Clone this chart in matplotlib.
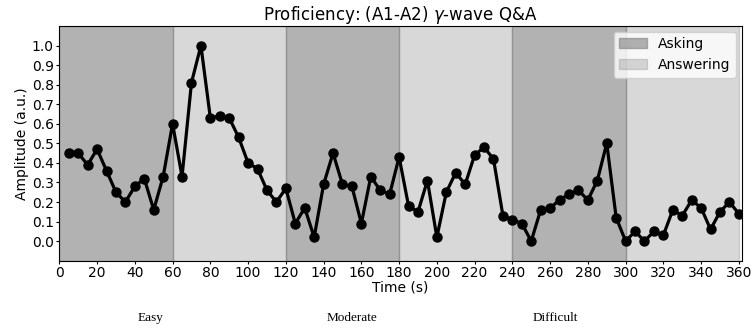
import matplotlib
matplotlib.use("Agg")
import matplotlib.pyplot as plt
import numpy as np

# Sampling times (s) and gamma-wave amplitude (a.u.)
time_s = list(range(5, 365, 5))
amplitude = [
    0.45, 0.45, 0.39, 0.47, 0.36, 0.25, 0.20, 0.28, 0.32, 0.16, 0.33, 0.60,
    0.33, 0.81, 1.00, 0.63, 0.64, 0.63, 0.53, 0.40, 0.37, 0.26, 0.20, 0.27,
    0.09, 0.17, 0.02, 0.29, 0.45, 0.29, 0.28, 0.09, 0.33, 0.26, 0.24, 0.43,
    0.18, 0.15, 0.31, 0.02, 0.25, 0.35, 0.29, 0.44, 0.48, 0.42, 0.13, 0.11,
    0.09, 0.00, 0.16, 0.17, 0.21, 0.24, 0.26, 0.21, 0.31, 0.50, 0.12, 0.00,
    0.05, 0.00, 0.05, 0.03, 0.16, 0.13, 0.21, 0.17, 0.06, 0.15, 0.20, 0.14,
]

# Task phases: (start, end, kind)
phases = [
    (0, 60, "Asking"), (60, 120, "Answering"),
    (120, 180, "Asking"), (180, 240, "Answering"),
    (240, 300, "Asking"), (300, 360, "Answering"),
]
phase_alpha = {"Asking": 0.6, "Answering": 0.3}

difficulty_labels = ["Easy", "Moderate", "Difficult"]
difficulty_x = [0.200, 0.467, 0.737]

fig = plt.figure(figsize=(7.54, 3.29), dpi=100)
ax = fig.add_axes([0.0787, 0.2076, 0.905, 0.7134])

seen = set()
for start, end, kind in phases:
    label = kind if kind not in seen else None
    seen.add(kind)
    ax.axvspan(start, end, color="gray", alpha=phase_alpha[kind], label=label)

ax.plot(time_s, amplitude, color="black", linewidth=2.3, marker="o", markersize=6.5)

ax.set_xlim(0, 361.5)
ax.set_ylim(-0.1, 1.1)
ax.set_xticks(np.arange(0, 361, 20))
ax.set_yticks(np.arange(0, 1.01, 0.1))
ax.set_yticklabels([f"{v:.1f}" for v in np.arange(0, 1.01, 0.1)])
ax.tick_params(labelsize=10, length=2.2, pad=1.8)
ax.set_xlabel("Time (s)", fontsize=10, labelpad=0)
ax.set_ylabel("Amplitude (a.u.)", fontsize=10, labelpad=2)
ax.set_title("Proficiency: (A1-A2) $\\gamma$-wave Q&A", fontsize=12, pad=2)
ax.legend(loc="upper right", fontsize=10, borderaxespad=0.4)

for text, xpos in zip(difficulty_labels, difficulty_x):
    fig.text(xpos, 0.033, text, ha="center", va="center",
             family="Liberation Serif", fontsize=9.5)

fig.savefig("out.png", dpi=100)
